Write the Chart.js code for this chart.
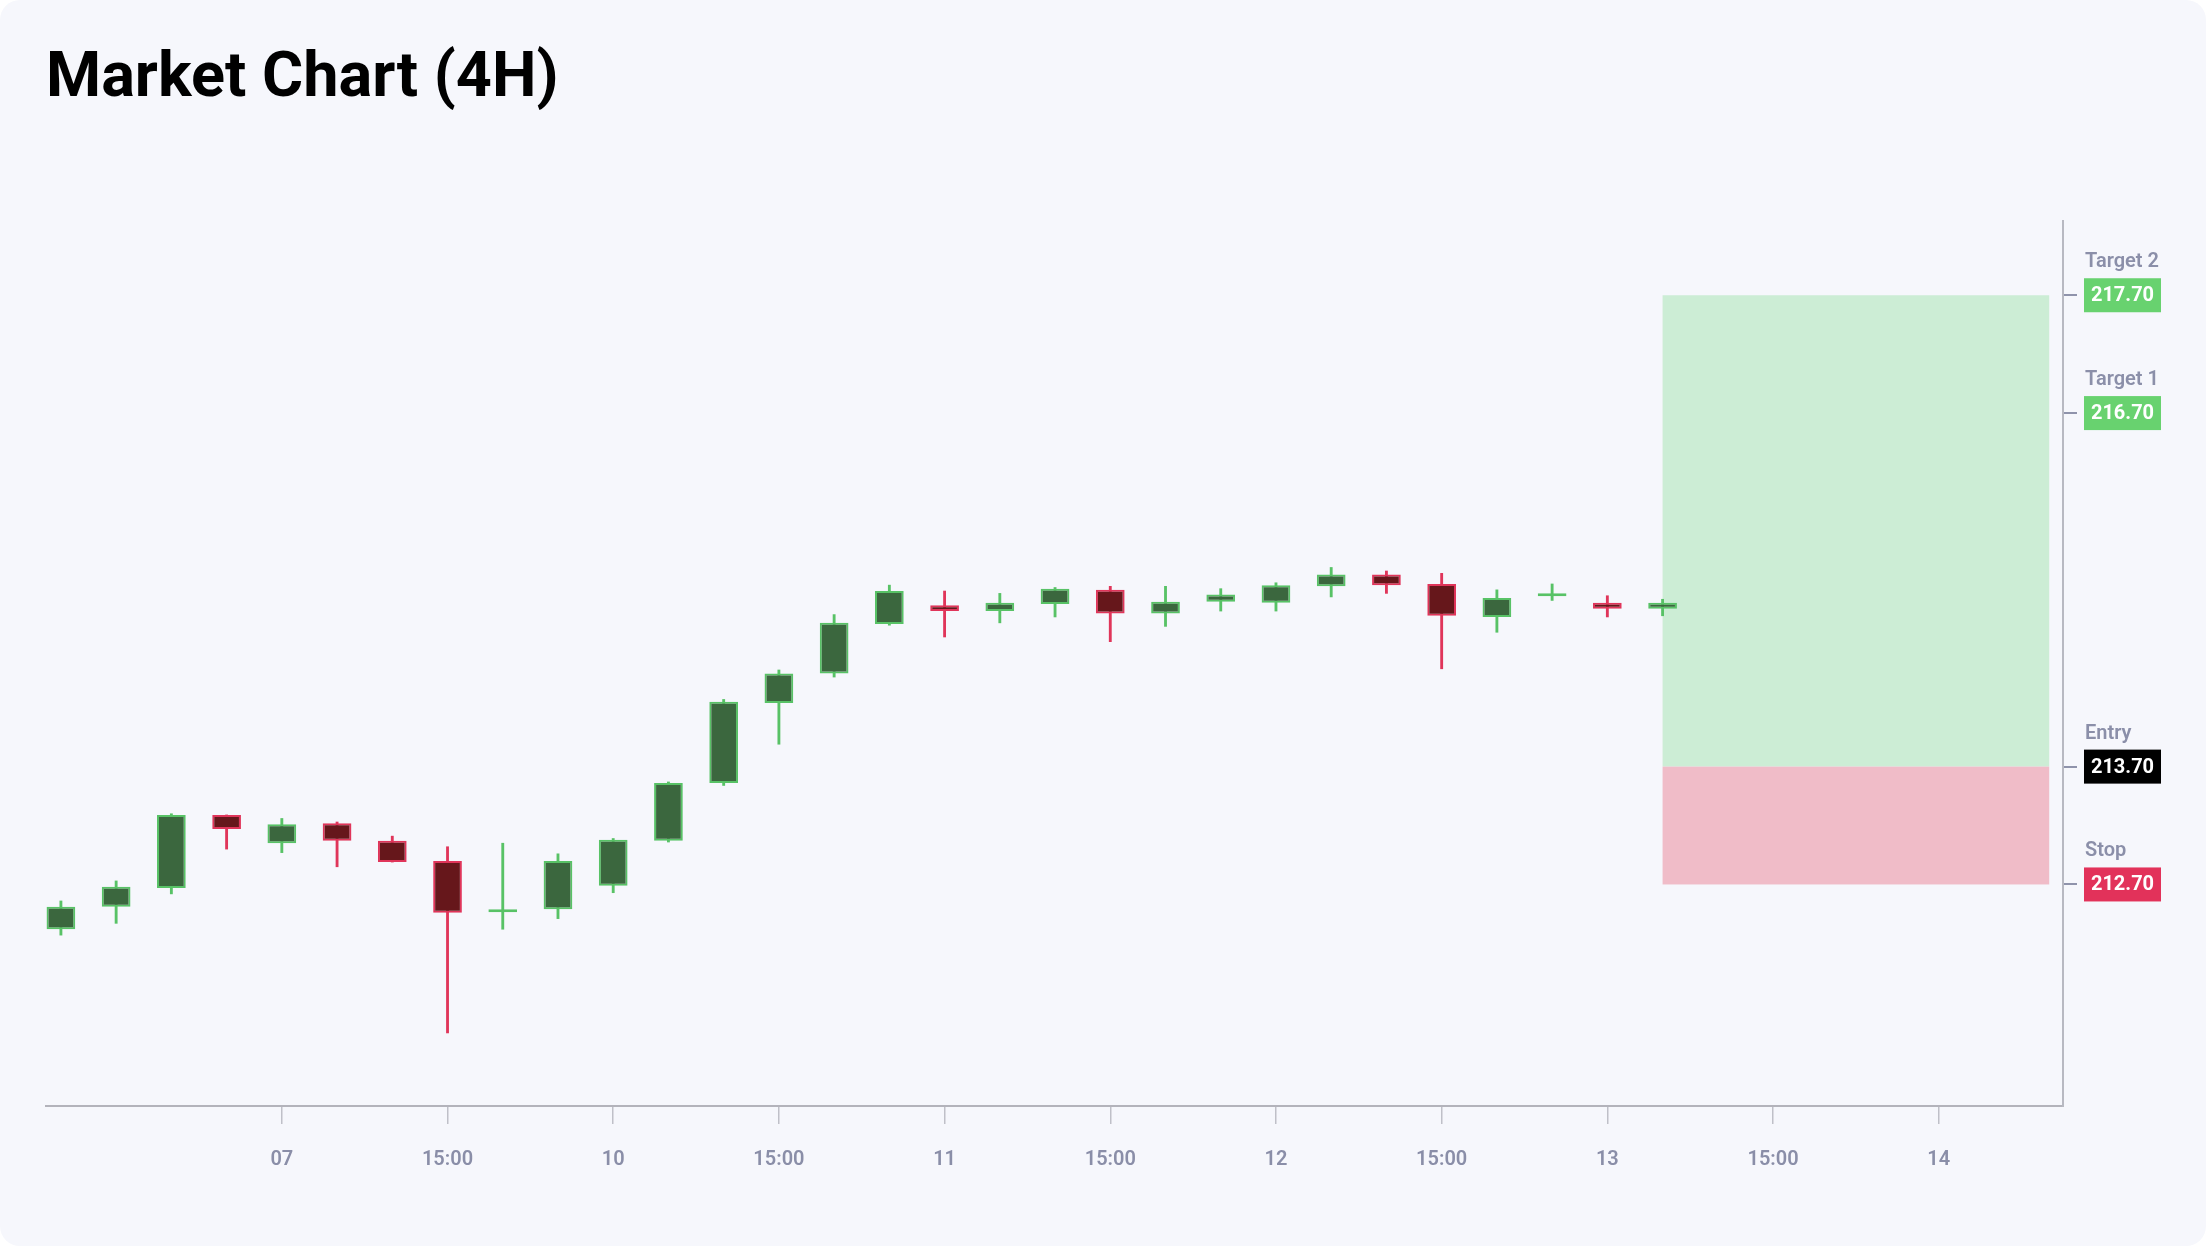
<!DOCTYPE html>
<html>
<head>
<meta charset="utf-8">
<title>Market Chart (4H)</title>
<script src="https://cdn.jsdelivr.net/npm/chart.js@4.4.1/dist/chart.umd.min.js"></script>
<style>
  html, body { margin: 0; padding: 0; background: #ffffff; }
  .card {
    position: absolute; left: 0; top: 0;
    width: 2206px; height: 1246px;
    background: #f6f7fc;
    border-radius: 20px;
    overflow: hidden;
  }
  h1 {
    position: absolute; left: 46px; top: 43px; margin: 0;
    font: 700 63px/64px Roboto, sans-serif;
    color: #000;
  }
  #chart { position: absolute; left: 0; top: 0; }
</style>
</head>
<body>
<div class="card">
  <h1>Market Chart (4H)</h1>
  <canvas id="chart" width="2206" height="1246"></canvas>
</div>
<script>
// 4H candles, index 0..29 (weekend skipped on the axis)
const opens  = [212.32, 212.51, 212.67, 213.29, 213.05, 213.22, 213.07, 212.90, 212.465, 212.49,
                212.69, 213.07, 213.56, 214.24, 214.49, 214.91, 215.07, 215.02, 215.08, 215.20,
                215.00, 215.10, 215.09, 215.23, 215.33, 215.25, 214.97, 215.145, 215.09, 215.04];
const closes = [212.51, 212.68, 213.29, 213.17, 213.21, 213.07, 212.89, 212.46, 212.49, 212.90,
                213.08, 213.56, 214.25, 214.49, 214.92, 215.19, 215.02, 215.09, 215.21, 215.00,
                215.10, 215.16, 215.24, 215.33, 215.24, 214.98, 215.13, 215.16, 215.04, 215.09];
const highs  = [212.56, 212.73, 213.30, 213.29, 213.26, 213.23, 213.11, 213.02, 213.05, 212.96,
                213.09, 213.57, 214.27, 214.52, 214.99, 215.24, 215.19, 215.17, 215.22, 215.23,
                215.23, 215.21, 215.26, 215.39, 215.36, 215.34, 215.20, 215.25, 215.15, 215.12];
const lows   = [212.27, 212.37, 212.62, 213.00, 212.97, 212.85, 212.89, 211.44, 212.32, 212.41,
                212.63, 213.06, 213.54, 213.89, 214.46, 214.90, 214.80, 214.92, 214.97, 214.76,
                214.89, 215.02, 215.02, 215.14, 215.17, 214.53, 214.84, 215.11, 214.97, 214.98];

const tickIdx    = [4, 7, 10, 13, 16, 19, 22, 25, 28, 31, 34];
const tickLabels = ['07', '15:00', '10', '15:00', '11', '15:00', '12', '15:00', '13', '15:00', '14'];

const levelNames  = ['Target 2', 'Target 1', 'Entry', 'Stop'];
const levelValues = [217.70, 216.70, 213.70, 212.70];
const levelColors = ['#68d26f', '#68d26f', '#000000', '#e2325a'];

// trade zone spans from the last candle to the right
const zoneFrom = 29;
const zoneTo   = 36;

const upEdge = '#58c266', upBody = '#3b673e';
const dnEdge = '#e0355a', dnBody = '#66171b';

const isUp = opens.map((o, i) => closes[i] >= o);

const bodies = opens.map((o, i) => ({ x: i, y: [o, closes[i]] }));
const wicks  = lows.map((l, i) => ({ x: i, y: [l, highs[i]] }));

const zonePlugin = {
  id: 'zones',
  beforeDatasetsDraw(chart) {
    const { ctx, scales: { x, y } } = chart;
    const x0 = x.getPixelForValue(zoneFrom);
    const x1 = x.getPixelForValue(zoneTo);
    const entry = levelValues[2];
    ctx.save();
    ctx.fillStyle = '#ccedd5';
    ctx.fillRect(x0, y.getPixelForValue(levelValues[0]), x1 - x0,
      y.getPixelForValue(entry) - y.getPixelForValue(levelValues[0]));
    ctx.fillStyle = '#f0bcc8';
    ctx.fillRect(x0, y.getPixelForValue(entry), x1 - x0,
      y.getPixelForValue(levelValues[3]) - y.getPixelForValue(entry));
    ctx.restore();
  }
};

const levelLabels = {
  id: 'levelLabels',
  afterDraw(chart) {
    const { ctx, scales: { y } } = chart;
    const left = y.left + 21;
    ctx.save();
    levelValues.forEach((v, i) => {
      const py = y.getPixelForValue(v);
      ctx.font = '600 20px Roboto';
      ctx.fillStyle = '#8b8fa9';
      ctx.textAlign = 'left';
      ctx.textBaseline = 'alphabetic';
      ctx.fillText(levelNames[i], left + 1, py - 28);

      ctx.fillStyle = levelColors[i];
      ctx.fillRect(left, py - 17, 77, 34);
      ctx.font = 'bold 20px Roboto';
      ctx.fillStyle = '#ffffff';
      ctx.textAlign = 'center';
      ctx.textBaseline = 'middle';
      ctx.fillText(v.toFixed(2), left + 38.5, py + 1);
    });
    ctx.restore();
  }
};

new Chart(document.getElementById('chart'), {
  type: 'bar',
  data: {
    datasets: [
      {
        label: 'body',
        data: bodies,
        grouped: false,
        order: 0,
        categoryPercentage: 1,
        barPercentage: 0.52,
        backgroundColor: isUp.map(u => u ? upBody : dnBody),
        borderColor: isUp.map(u => u ? upEdge : dnEdge),
        borderWidth: 2,
        borderSkipped: false,
        minBarLength: 3
      },
      {
        label: 'wick',
        data: wicks,
        grouped: false,
        order: 1,
        categoryPercentage: 1,
        barPercentage: 1,
        maxBarThickness: 2.2,
        backgroundColor: isUp.map(u => u ? upEdge : dnEdge),
        borderWidth: 0
      }
    ]
  },
  options: {
    responsive: false,
    animation: false,
    layout: { padding: { left: 46, top: 221, right: 0, bottom: 0 } },
    plugins: {
      legend: { display: false },
      tooltip: { enabled: false }
    },
    scales: {
      x: {
        type: 'linear',
        offset: false,
        min: -0.27,
        max: 36.25,
        afterBuildTicks: (scale) => { scale.ticks = tickIdx.map(v => ({ value: v })); },
        afterFit: (scale) => { scale.height = 140; },
        grid: {
          offset: false,
          drawOnChartArea: false,
          drawTicks: true,
          tickLength: 18,
          color: '#bfc0c8',
          lineWidth: 1.5
        },
        border: { display: true, color: '#b3b3bb', width: 2 },
        ticks: {
          autoSkip: false,
          maxRotation: 0,
          minRotation: 0,
          padding: 24,
          color: '#8a8ea8',
          font: { family: 'Roboto', size: 20, weight: 600 },
          callback: (value, index) => tickLabels[index]
        }
      },
      y: {
        position: 'right',
        min: 210.82,
        max: 218.33,
        afterBuildTicks: (scale) => { scale.ticks = levelValues.map(v => ({ value: v })); },
        afterFit: (scale) => { scale.width = 143; },
        grid: {
          drawOnChartArea: false,
          drawTicks: true,
          tickLength: 14,
          color: '#8f93ab',
          lineWidth: 2
        },
        border: { display: true, color: '#b8b9c2', width: 2 },
        ticks: { display: false }
      }
    }
  },
  plugins: [zonePlugin, levelLabels]
});
</script>
</body>
</html>
